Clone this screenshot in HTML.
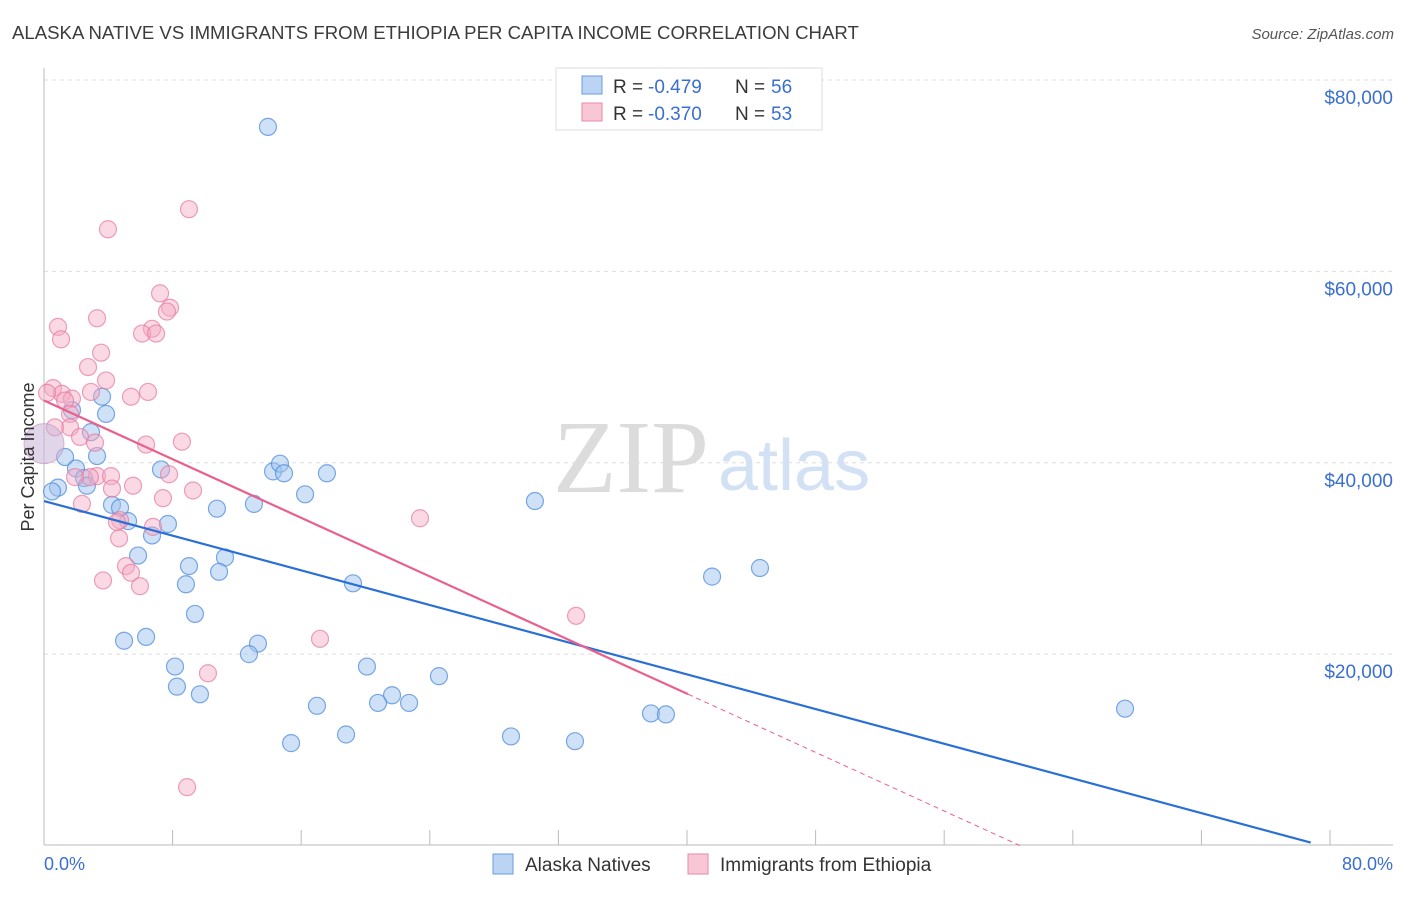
<!DOCTYPE html>
<html><head><meta charset="utf-8"><style>
body{margin:0;background:#fff;font-family:"Liberation Sans",sans-serif;}
svg text{font-family:"Liberation Sans",sans-serif;}
</style></head><body>
<svg id="chart" width="1406" height="892" xmlns="http://www.w3.org/2000/svg">
<text x="12" y="39" font-size="18.6" fill="#3c3c3c">ALASKA NATIVE VS IMMIGRANTS FROM ETHIOPIA PER CAPITA INCOME CORRELATION CHART</text>
<text x="1394" y="39" font-size="15" fill="#555" font-style="italic" text-anchor="end">Source: ZipAtlas.com</text>
<g id="grid"></g>
<text x="553" y="492" font-size="104" fill="#dcdcdc" style="font-family:'Liberation Serif',serif">ZIP</text>
<text x="718" y="490" font-size="72" fill="#d3e1f5">atlas</text>
<g id="points"></g>
<g id="lines"></g>
<text transform="translate(34,457) rotate(-90)" font-size="18" fill="#333" text-anchor="middle">Per Capita Income</text>
<text x="44" y="870" font-size="18" fill="#3a6fd0">0.0%</text>
<text x="1393" y="870" font-size="18" fill="#3a6fd0" text-anchor="end">80.0%</text>
<g>
<rect x="556" y="68" width="266" height="62" fill="#fff" stroke="#ddd"/>
<rect x="582" y="76" width="20" height="18" fill="#bcd4f3" stroke="#6a9be0"/>
<rect x="582" y="103" width="20" height="18" fill="#f8c6d4" stroke="#e98aa8"/>
<text x="613" y="93" font-size="19" fill="#333">R =</text>
<text x="648" y="93" font-size="19" fill="#3a6fd0">-0.479</text>
<text x="735" y="93" font-size="19" fill="#333">N =</text>
<text x="771" y="93" font-size="19" fill="#3a6fd0">56</text>
<text x="613" y="120" font-size="19" fill="#333">R =</text>
<text x="648" y="120" font-size="19" fill="#3a6fd0">-0.370</text>
<text x="735" y="120" font-size="19" fill="#333">N =</text>
<text x="771" y="120" font-size="19" fill="#3a6fd0">53</text>
</g>
<g>
<rect x="493" y="854" width="20" height="20" fill="#bcd4f3" stroke="#6a9be0"/>
<text x="525" y="871" font-size="19" fill="#333">Alaska Natives</text>
<rect x="688" y="854" width="20" height="20" fill="#f8c6d4" stroke="#e98aa8"/>
<text x="720" y="871" font-size="19" fill="#333">Immigrants from Ethiopia</text>
</g>
</svg>
<script>
const yTicks=[20000,40000,60000,80000];
const yTickLabels=["$20,000","$40,000","$60,000","$80,000"];
const xTicks=[0,8,16,24,32,40,48,56,64,72,80];
const blueX=[13.93,3.61,3.86,1.74,2.92,1.31,3.30,1.99,7.28,14.25,14.68,14.93,17.60,0.87,0.5,2.49,2.67,16.24,30.54,4.23,4.73,5.23,10.76,13.06,7.71,6.72,5.85,11.26,9.02,10.89,8.83,19.22,41.56,44.54,9.39,4.98,6.35,13.31,12.75,8.15,20.09,24.57,8.27,9.70,21.65,20.78,22.71,16.98,37.76,38.69,67.25,18.79,15.37,29.05,33.03];
const blueY=[75100,46900,45100,45500,43200,40600,40700,39400,39300,39100,39900,38900,38900,37400,37000,38400,37600,36700,36000,35600,35300,33900,35200,35700,33600,32400,30300,30100,29200,28600,27300,27400,28100,29000,24200,21400,21800,21100,20000,18700,18700,17700,16600,15800,15700,14900,14900,14600,13800,13700,14300,11600,10700,11400,10900];
const pinkX=[9.02,3.98,7.22,7.84,7.65,0.87,3.30,1.06,6.72,6.10,6.97,3.55,2.74,3.86,0.56,1.12,0.19,1.74,1.31,6.47,5.41,2.92,1.62,1.62,0.68,2.24,3.17,8.58,6.35,3.30,4.17,2.86,5.54,4.23,7.78,9.27,7.40,2.36,23.39,4.73,4.54,6.78,4.67,5.10,5.41,3.67,5.97,33.10,17.17,10.20,8.90,1.93];
const pinkY=[66500,64400,57700,56200,55800,54200,55100,52900,54000,53500,53500,51500,50000,48600,47800,47200,47300,46700,46500,47400,46900,47400,45100,43700,43700,42700,42100,42200,41900,38600,38600,38500,37600,37300,38800,37100,36300,35700,34200,34000,33800,33300,32100,29200,28500,27700,27100,24000,21600,18000,6100,38500];
const bigPoints=[[0,42000]];
const blueTrend=[36000,-453];
const pinkTrend=[46500,-766];
const X0=44,X1=1330,Y0=845.5,YMAX=80000,YPX=80;
const sx=v=>X0+(X1-X0)*v/80;
const sy=v=>Y0-(Y0-YPX)*v/YMAX;
const NS="http://www.w3.org/2000/svg";
function mk(tag,attrs,parent){const e=document.createElementNS(NS,tag);for(const k in attrs)e.setAttribute(k,attrs[k]);parent.appendChild(e);return e;}
const grid=document.getElementById('grid');
yTicks.forEach((t,i)=>{
 const l=mk('line',{x1:44,x2:1393,y1:sy(t),y2:sy(t),stroke:'#ddd','stroke-dasharray':'4,4'},grid);
 
 
 const tx=mk('text',{x:1393,y:sy(t)+24,'font-size':19,fill:'#3a6fd0','text-anchor':'end'},grid);
 tx.textContent=yTickLabels[i];
 
 
});
const ax=mk('line',{x1:44,x2:44,y1:68,y2:845,stroke:'#bbb'},grid);


const bx=mk('line',{x1:44,x2:1393,y1:845,y2:845,stroke:'#bbb'},grid);


xTicks.forEach(t=>{
 const l=mk('line',{x1:sx(t),x2:sx(t),y1:830,y2:845,stroke:'#bbb'},grid);
 
 
});
const pts=document.getElementById('points');
blueX.forEach((x,i)=>{
 const c=mk('circle',{cx:sx(x),cy:sy(blueY[i]),r:8.5,fill:'rgba(160,195,238,0.5)',stroke:'rgba(80,140,220,0.75)','stroke-width':1.2},pts);
 
 
});
pinkX.forEach((x,i)=>{
 const c=mk('circle',{cx:sx(x),cy:sy(pinkY[i]),r:8.5,fill:'rgba(244,170,195,0.45)',stroke:'rgba(230,120,160,0.7)','stroke-width':1.2},pts);
 
 
});
bigPoints.forEach(p=>{
 const c=mk('circle',{cx:sx(p[0]),cy:sy(p[1]),r:20,fill:'rgba(200,180,215,0.55)',stroke:'rgba(200,140,180,0.6)'},pts);
 
 
});
const lines=document.getElementById('lines');
const bEnd=78.8;
const bl=mk('line',{x1:sx(0),y1:sy(blueTrend[0]),x2:sx(bEnd),y2:sy(blueTrend[0]+blueTrend[1]*bEnd),stroke:'#2a6fd6','stroke-width':2.2},lines);


const pEnd=40.06,pZero=-pinkTrend[0]/pinkTrend[1];
const pl=mk('line',{x1:sx(0),y1:sy(pinkTrend[0]),x2:sx(pEnd),y2:sy(pinkTrend[0]+pinkTrend[1]*pEnd),stroke:'#e8608b','stroke-width':2.2},lines);


const pd=mk('line',{x1:sx(pEnd),y1:sy(pinkTrend[0]+pinkTrend[1]*pEnd),x2:sx(pZero),y2:sy(0),stroke:'#e8608b','stroke-width':1,'stroke-dasharray':'5,4'},lines);


</script>
</body></html>
